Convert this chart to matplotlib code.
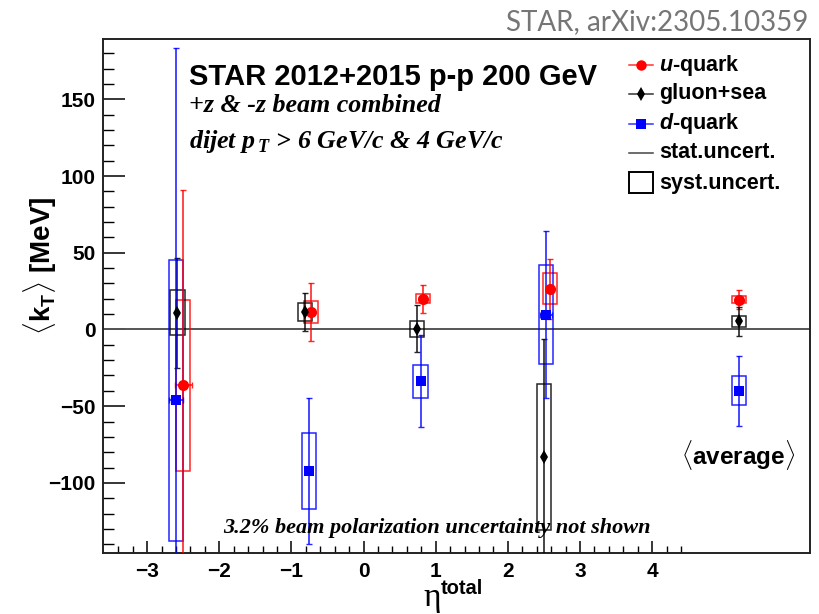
import matplotlib
matplotlib.use("Agg")
import matplotlib.pyplot as plt
from matplotlib.patches import Rectangle
from matplotlib.lines import Line2D
import numpy as np

plt.rcParams["mathtext.fontset"] = "custom"
plt.rcParams["mathtext.rm"] = "Liberation Sans:bold"
plt.rcParams["mathtext.bf"] = "Liberation Sans:bold"
plt.rcParams["mathtext.it"] = "Liberation Sans:bold:italic"
plt.rcParams["mathtext.sf"] = "Liberation Serif:bold:italic"

# ---- data: <k_T> [MeV] vs eta_total; last point of each series is the average ----
u_eta   = [-2.50, -0.73, 0.82, 2.58, 5.20]
u_kt    = [-36.3, 11.5, 20.0, 26.6, 19.5]
u_stat  = [127.5, 19.0, 9.0, 19.5, 6.0]
u_syst  = [55.8, 7.0, 3.0, 10.0, 2.5]
u_xerr  = [0.12, 0.05, 0.05, 0.05, 0.0]

g_eta   = [-2.58, -0.81, 0.74, 2.50, 5.20]
g_kt    = [10.8, 11.4, 0.5, -83.0, 5.2]
g_stat  = [35.7, 12.3, 15.2, 76.5, 9.3]
g_syst  = [14.7, 5.6, 5.2, 47.5, 3.8]

d_eta   = [-2.60, -0.76, 0.79, 2.53, 5.20]
d_kt    = [-46.3, -92.4, -33.8, 9.7, -40.0]
d_stat  = [230.0, 47.5, 30.0, 54.6, 23.0]
d_syst  = [91.7, 24.6, 10.6, 32.4, 9.4]
d_xerr  = [0.10, 0.05, 0.05, 0.08, 0.0]

x_ticks = [-3, -2, -1, 0, 1, 2, 3, 4]
y_ticks = [-100, -50, 0, 50, 100, 150]

RED, BLACK, BLUE = "#ff0000", "#000000", "#0000ff"
W, H = 819, 614

fig = plt.figure(figsize=(W / 100, H / 100), dpi=100)
ax = fig.add_axes([102.7 / W, 1 - 552.7 / H, (810.5 - 102.7) / W, (552.7 - 39.3) / H])
ax.set_xlim(-3.616, 6.194)
ax.set_ylim(-145.5, 189.1)

BOX_W = 0.2


def draw_series(eta, kt, stat, syst, color, marker, ms, xerr=None):
    for x, y, s in zip(eta, kt, syst):
        ax.add_patch(Rectangle((x - BOX_W / 2, y - s), BOX_W, 2 * s, fill=False,
                               edgecolor=color, linewidth=1.1, alpha=0.85, zorder=3))
    ax.errorbar(eta, kt, yerr=stat, xerr=xerr, fmt="none", ecolor=color,
                elinewidth=1.2, capsize=2.5, capthick=1.0, alpha=0.85, zorder=4)
    ax.plot(eta, kt, linestyle="none", marker=marker, color=color, markersize=ms,
            markeredgewidth=0, zorder=5)


ax.axhline(0, color="#555555", linewidth=1.4, zorder=2)
draw_series(u_eta, u_kt, u_stat, u_syst, RED, "o", 8.0, u_xerr)
draw_series(g_eta, g_kt, g_stat, g_syst, BLACK, "d", 7.5)
draw_series(d_eta, d_kt, d_stat, d_syst, BLUE, "s", 7.5, d_xerr)

# axes styling
for sp in ax.spines.values():
    sp.set_linewidth(1.4)
    sp.set_color("#222222")
ax.set_xticks(x_ticks)
ax.set_xticklabels([f"\u2212{abs(v)}" if v < 0 else str(v) for v in x_ticks])
ax.set_xticks(np.round(np.arange(-3.4, 4.41, 0.2), 2), minor=True)
ax.set_yticks(y_ticks)
ax.set_yticklabels([f"\u2212{abs(v)}" if v < 0 else str(v) for v in y_ticks])
ax.set_yticks(np.arange(-140, 190, 10), minor=True)
ax.tick_params(axis="x", which="major", direction="in", length=9, width=1.1, pad=7,
               labelsize=15)
ax.tick_params(axis="x", which="minor", direction="in", length=5, width=1.0)
ax.tick_params(axis="y", which="major", direction="in", length=16, width=1.1, pad=5,
               labelsize=15)
ax.tick_params(axis="y", which="minor", direction="in", length=8, width=1.0)
for lab in ax.get_xticklabels() + ax.get_yticklabels():
    lab.set_fontfamily("Liberation Sans")
    lab.set_fontweight("bold")


def fx(x):
    return x / W


def fy(y):
    return 1 - y / H


SANS = "Liberation Sans"
SERIF = "Liberation Serif"

# axis titles
fig.text(fx(40), fy(266), r"$\langle\mathrm{k}_{\mathrm{T}}\rangle$ [MeV]", rotation=90,
         ha="center", va="center", fontsize=20, fontfamily=SANS, fontweight="bold")
fig.text(fx(441), fy(606), "\u03b7", ha="right", va="baseline", fontsize=24,
         fontfamily=SERIF)
fig.text(fx(441), fy(594), "total", ha="left", va="baseline", fontsize=14.5,
         fontfamily=SANS, fontweight="bold")

# header texts
fig.text(fx(189), fy(85), "STAR 2012+2015 p-p 200 GeV", ha="left", va="baseline",
         fontsize=21, fontfamily=SANS, fontweight="bold")
fig.text(fx(189), fy(112), "+z & -z beam combined", ha="left", va="baseline",
         fontsize=18.7, fontfamily=SERIF, fontweight="bold", fontstyle="italic")
fig.text(fx(189), fy(148), r"dijet $\mathsf{p}_{\,\mathsf{T}}$ > 6 GeV/c & 4 GeV/c",
         ha="left", va="baseline", fontsize=18.7, fontfamily=SERIF, fontweight="bold",
         fontstyle="italic")
fig.text(fx(222.7), fy(533), "3.2% beam polarization uncertainty not shown",
         ha="left", va="baseline", fontsize=16, fontfamily=SERIF, fontweight="bold",
         fontstyle="italic")
fig.text(fx(738.5), fy(455), r"$\langle$average$\rangle$", ha="center", va="center",
         fontsize=17.5, fontfamily=SANS, fontweight="bold")
fig.text(fx(808), fy(30), "STAR, arXiv:2305.10359", ha="right", va="baseline",
         fontsize=20, fontfamily="Lato", color="#767676")

# legend
leg_y = [65, 94, 124, 153, 183]
leg_labels = [r"$u$-quark", "gluon+sea", r"$d$-quark", "stat.uncert.", "syst.uncert."]
leg_style = [(RED, "o", 7.5), (BLACK, "d", 7), (BLUE, "s", 7)]
for i, (yy, lab) in enumerate(zip(leg_y, leg_labels)):
    if i < 3:
        c, m, ms = leg_style[i]
        fig.add_artist(Line2D([fx(629), fx(653)], [fy(yy), fy(yy)], color=c, lw=1.1,
                              alpha=0.8, transform=fig.transFigure))
        fig.add_artist(Line2D([fx(641)], [fy(yy)], marker=m, color=c, markersize=ms,
                              markeredgewidth=0, transform=fig.transFigure))
    elif i == 3:
        fig.add_artist(Line2D([fx(629), fx(653)], [fy(yy), fy(yy)], color="#444444",
                              lw=1.1, transform=fig.transFigure))
    else:
        fig.add_artist(Rectangle((fx(629), fy(193)), fx(24), 20.5 / H, fill=False,
                                 edgecolor="black", linewidth=1.4,
                                 transform=fig.transFigure))
    fig.text(fx(659), fy(yy), lab, ha="left", va="center", fontsize=15.5,
             fontfamily=SANS, fontweight="bold")

fig.savefig("out.png", dpi=100)
